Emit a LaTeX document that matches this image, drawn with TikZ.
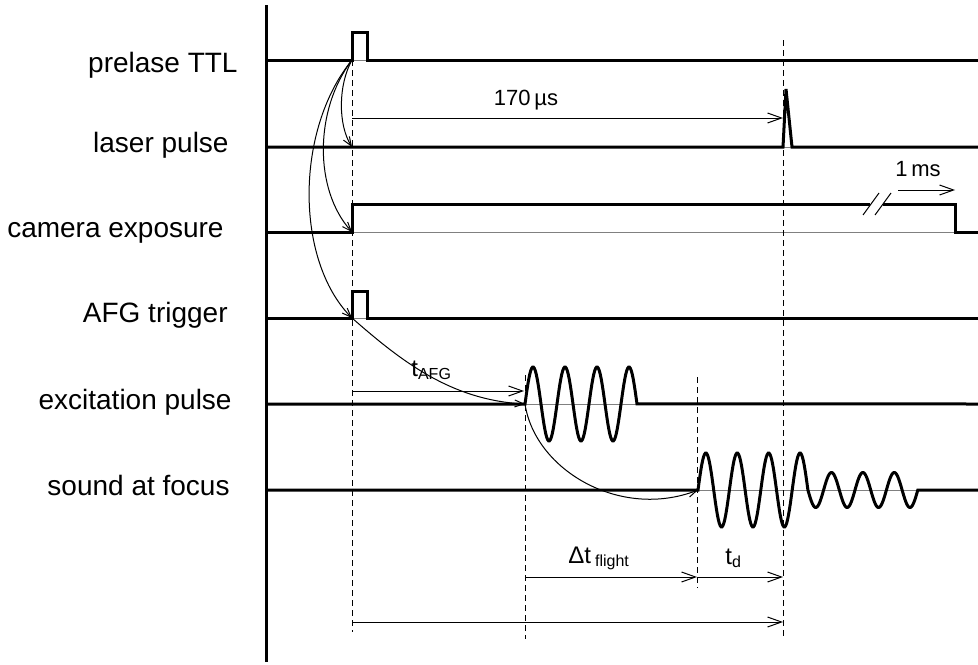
\documentclass[tikz,border=0pt]{standalone}
\usepackage{fontspec}
\setmainfont{Liberation Sans}
\usepackage{tikz}
\usetikzlibrary{arrows.meta}
\tikzset{
  sig/.style      = {line width=1.5pt},
  zero/.style     = {line width=0.5pt, black!50},
  guide/.style    = {line width=0.5pt, dash pattern=on 3pt off 2pt},
  span/.style     = {-{Straight Barb[length=7pt,width=5pt]}, line width=0.5pt},
  cause/.style    = {-{Straight Barb[length=4.5pt,width=3.5pt]}, line width=0.5pt},
  rowlab/.style   = {anchor=base east, inner sep=0pt, font=\fontsize{14}{16}\selectfont},
  timelab/.style  = {anchor=base west, inner sep=0pt, font=\fontsize{12}{14}\selectfont},
  smalllab/.style = {anchor=base, inner sep=0pt, font=\fontsize{11}{13}\selectfont},
}
\newcommand{\squarerow}[4]{%
  \coordinate (#1on) at (#3,#2);
  \draw[zero] (#1on) -- (#3+15,#2);
  \draw[sig] (266,#2) -- (#1on) |- (#3+15,#4) |- (978,#2);
}
\newcommand{\guideline}[4]{%
  \coordinate (#1t) at (#2,#3);
  \coordinate (#1b) at (#2,#4);
  \draw[guide] (#1t) -- (#1b);
}
\newcommand{\spanarrow}[4]{%
  \coordinate (#1s) at (#2,#4);
  \coordinate (#1e) at (#3,#4);
  \draw[span] (#1s) -- (#1e);
}

\begin{document}
\begin{tikzpicture}[x=0.5pt, y=-0.5pt]
  \useasboundingbox (0,0) rectangle (978,664);

  % time axis
  \draw[sig] (266,5) -- (266,662);

  % row labels
  \node[rowlab] (labttl) at (238,72)  {prelase TTL};
  \node[rowlab] (lablas) at (229,152) {laser pulse};
  \node[rowlab] (labcam) at (224,237) {camera exposure};
  \node[rowlab] (labafg) at (228,322) {AFG trigger};
  \node[rowlab] (labex)  at (232,409) {excitation pulse};
  \node[rowlab] (labsnd) at (230,495) {sound at focus};

  % signals
  \squarerow{ttl}{60}{352}{32}
  \squarerow{afg}{318}{352}{291}

  \coordinate (lason) at (352,147);
  \draw[zero] (783,147) -- (792,147);
  \draw[sig] (266,147) -- (783,147) -- (786,89) -- (792,147) -- (978,147);

  \coordinate (camon) at (352,232);
  \draw[zero] (camon) -- (955,232);
  \draw[sig] (266,232) -- (camon) -- (352,204) -- (870,204);
  \draw[sig] (883,204) -- (955,204) -- (955,232) -- (978,232);
  \draw[line width=0.5pt] (863,215) -- (879,193);
  \draw[line width=0.5pt] (875,215) -- (891,193);

  \coordinate (exon) at (525,404);
  \draw[zero] (exon) -- (637,404);
  \draw[sig] (266,404) -- (exon)
    -- plot[domain=0:3.5, samples=120] ({525+32*\x},{404-37*sin(360*\x)})
    -- (978,404);

  \coordinate (sndon) at (698,490);
  \draw[zero] (sndon) -- (918,490);
  \draw[sig] (266,490) -- (sndon)
    -- plot[domain=0:3.5, samples=120] ({698+31.4*\x},{490-37*sin(360*\x)})
    -- plot[domain=3.5:7, samples=120] ({698+31.4*\x},{490-17.5*sin(360*\x)})
    -- (978,490);

  % time marks
  \guideline{gttl}{352}{60}{632}
  \guideline{gex}{525}{375}{639}
  \guideline{gsnd}{697}{377}{588}
  \guideline{glas}{783}{40}{639}

  % triggers
  \draw[cause] (ttlon) .. controls (338,85) and (338,125) .. (lason);
  \draw[cause] (ttlon) .. controls (314,110) and (314,190) .. (camon);
  \draw[cause] (ttlon) .. controls (295,130) and (295,260) .. (afgon);
  \draw[cause] (afgon) .. controls (400,360) and (450,400) .. (exon);
  \draw[cause] (exon) .. controls (535,470) and (620,520) .. (sndon);

  % delays
  \spanarrow{dlas}{352}{783}{118}
  \spanarrow{dexp}{898}{955}{190}
  \spanarrow{dafg}{352}{524}{391}
  \spanarrow{dfl}{525}{697}{577}
  \spanarrow{dtd}{697}{783}{577}
  \spanarrow{dtot}{352}{783}{622}

  \node[smalllab] (lbllas) at (526,105) {170\,µs};
  \node[smalllab] (lblexp) at (918,176) {1\,ms};
  \node[timelab]  (lblafg) at (411,376) {t\textsubscript{AFG}};
  \node[timelab]  (lblfl)  at (568,563) {Δt\,\textsubscript{flight}};
  \node[timelab]  (lbltd)  at (725,564) {t\textsubscript{d}};
\end{tikzpicture}
\end{document}
